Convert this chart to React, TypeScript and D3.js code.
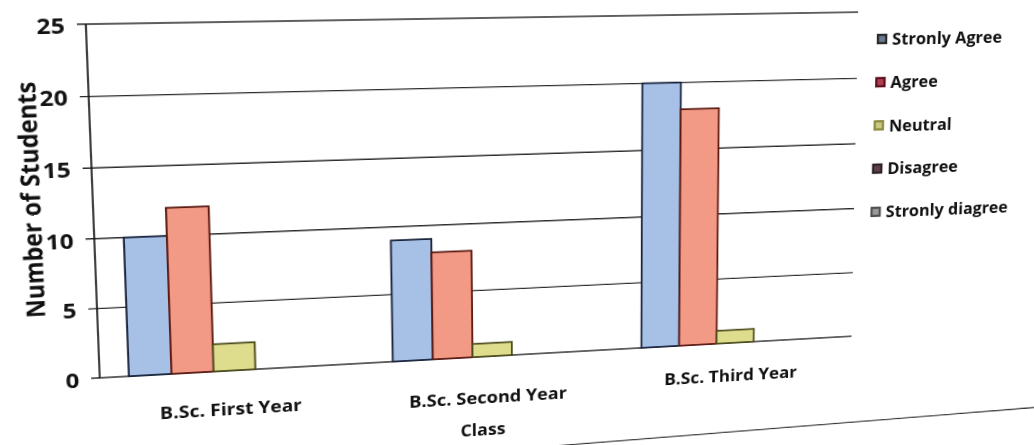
import React from "react";
import * as d3 from "d3";

const categories = ["B.Sc. First Year", "B.Sc. Second Year", "B.Sc. Third Year"];
const seriesNames = ["Stronly Agree", "Agree", "Neutral", "Disagree", "Stronly diagree"];
const stronglyAgree = [10, 9, 20];
const agree = [12, 8, 18];
const neutral = [2, 1, 1];
const disagree = [0, 0, 0];
const stronglyDisagree = [0, 0, 0];
const yTicks = [0, 5, 10, 15, 20, 25];
const seriesFill = ["#a7c0e6", "#f29a86", "#dedd8e", "#a48fc2", "#8fcfe0"];
const seriesStroke = ["#16223a", "#5a1810", "#4a4a1c", "#2a2040", "#20404a"];
const legendSwatch = ["#2a2a2a", "#5a1020", "#8a8a40", "#2a2020", "#505050"];
const legendFill = ["#6a7a90", "#b04050", "#c8c880", "#604050", "#9a9a9a"];
const yTitle = "Number of Students";
const xTitle = "Class";

const seriesValues = [stronglyAgree, agree, neutral, disagree, stronglyDisagree];

// photo perspective: reference points, flat chart coords -> picture coords
const fitFlat = [
  [100, 20], [100, 91.6], [100, 163.2], [100, 234.8], [100, 306.4], [100, 378],
  [860, 20], [860, 91.6], [860, 163.2], [860, 234.8], [860, 306.4], [860, 378],
  [127, 378], [127, 234.8], [380, 378], [380, 249], [634, 378], [634, 91.6],
  [100, 20], [860, 20], [100, 378], [860, 378],
];
const fitPhoto = [
  [86, 20], [88, 94], [91, 167], [94, 239], [97, 309], [101, 378],
  [858, 13], [857, 80], [856, 143], [855, 207], [854, 270], [853, 333],
  [128, 377], [129, 238], [388, 365], [389, 249], [638, 347], [640, 90],
  [86, 20], [858, 13], [101, 378], [853, 333],
];

function solve(A: number[][], b: number[]) {
  const n = b.length;
  for (let c = 0; c < n; c++) {
    let p = c;
    for (let r = c + 1; r < n; r++) if (Math.abs(A[r][c]) > Math.abs(A[p][c])) p = r;
    [A[c], A[p]] = [A[p], A[c]];
    [b[c], b[p]] = [b[p], b[c]];
    for (let r = 0; r < n; r++) {
      if (r === c) continue;
      const f = A[r][c] / A[c][c];
      for (let k = c; k < n; k++) A[r][k] -= f * A[c][k];
      b[r] -= f * b[c];
    }
  }
  return b.map((v, i) => v / A[i][i]);
}

function fitHomography(src: number[][], dst: number[][]) {
  const s = 1000;
  const rows: number[][] = [];
  const rhs: number[] = [];
  for (let i = 0; i < src.length; i++) {
    const x = src[i][0] / s, y = src[i][1] / s, X = dst[i][0] / s, Y = dst[i][1] / s;
    rows.push([x, y, 1, 0, 0, 0, -x * X, -y * X]);
    rhs.push(X);
    rows.push([0, 0, 0, x, y, 1, -x * Y, -y * Y]);
    rhs.push(Y);
  }
  const N: number[][] = Array.from({ length: 8 }, () => new Array(8).fill(0));
  const v: number[] = new Array(8).fill(0);
  rows.forEach((r, k) => {
    for (let i = 0; i < 8; i++) {
      v[i] += r[i] * rhs[k];
      for (let j = 0; j < 8; j++) N[i][j] += r[i] * r[j];
    }
  });
  const h = solve(N, v);
  return [
    [h[0], h[1], h[2] * s],
    [h[3], h[4], h[5] * s],
    [h[6] / s, h[7] / s, 1],
  ];
}

function invert3(m: number[][]) {
  const [a, b, c] = m[0];
  const [d, e, f] = m[1];
  const [g, h, i] = m[2];
  const A = e * i - f * h, B = -(d * i - f * g), C = d * h - e * g;
  const det = a * A + b * B + c * C;
  return [
    [A / det, -(b * i - c * h) / det, (b * f - c * e) / det],
    [B / det, (a * i - c * g) / det, -(a * f - c * d) / det],
    [C / det, -(a * h - b * g) / det, (a * e - b * d) / det],
  ];
}

export default function App() {
  const L = 100, R = 860, T = 20, B = 378;
  const Hm = fitHomography(fitFlat, fitPhoto);
  const Hi = invert3(Hm);
  const unproject = (X: number, Y: number) => {
    const w = Hi[2][0] * X + Hi[2][1] * Y + Hi[2][2];
    return [(Hi[0][0] * X + Hi[0][1] * Y + Hi[0][2]) / w, (Hi[1][0] * X + Hi[1][1] * Y + Hi[1][2]) / w];
  };
  const matrix = `matrix3d(${Hm[0][0]},${Hm[1][0]},0,${Hm[2][0]},${Hm[0][1]},${Hm[1][1]},0,${Hm[2][1]},0,0,1,0,${Hm[0][2]},${Hm[1][2]},0,1)`;

  const x0 = d3.scaleBand<string>().domain(categories).range([L, R]).paddingInner(0).paddingOuter(0);
  const x1 = d3.scaleBand<string>().domain(seriesNames).range([0, x0.bandwidth()]).paddingInner(0).paddingOuter(0.68);
  const y = d3.scaleLinear().domain([0, 25]).range([B, T]);

  const font = "'Open Sans', Lato, sans-serif";

  const legendStart = [882, 39];
  const legendStep = [-1.6, 43.2];
  const border1 = unproject(555, 446);
  const border2 = unproject(1040, 407);
  const yTitlePos = unproject(30, 201);
  const classPos = unproject(483, 429);
  const catPhoto = [[231, 408], [483, 397], [729, 375]];

  return (
    <div style={{ position: "fixed", left: 0, top: 0, width: 1034, height: 445, overflow: "hidden", background: "#fff" }}>
      <svg
        width={1034}
        height={445}
        style={{ position: "absolute", left: 0, top: 0, overflow: "visible", transformOrigin: "0 0", transform: matrix }}
      >
        <rect x={-300} y={-300} width={1700} height={1000} fill="#fff" />
        {yTicks.map((t) => (
          <line key={"g" + t} x1={L - 8} x2={R} y1={y(t)} y2={y(t)} stroke="#2a2a2a" strokeWidth={1.4} />
        ))}
        <line x1={L} x2={L} y1={T} y2={B} stroke="#111" strokeWidth={1.6} />
        {yTicks.map((t) => (
          <text key={"t" + t} x={L - 19} y={y(t)} textAnchor="end" dominantBaseline="central"
            fontFamily={font} fontWeight={700} fontSize={22} fill="#111">{t}</text>
        ))}
        {categories.map((c, ci) => (
          <g key={c} transform={`translate(${x0(c)},0)`}>
            {seriesNames.map((s, si) => {
              const v = seriesValues[si][ci];
              if (v <= 0) return null;
              return (
                <rect key={s} x={x1(s)} y={y(v)} width={x1.bandwidth()} height={y(0) - y(v)}
                  fill={seriesFill[si]} stroke={seriesStroke[si]} strokeWidth={1.8} />
              );
            })}
          </g>
        ))}
        {categories.map((c, ci) => {
          const [, ly] = unproject(catPhoto[ci][0], catPhoto[ci][1]);
          return (
            <text key={"l" + c} x={(x0(c) as number) + x0.bandwidth() / 2 - 4} y={ly} textAnchor="middle"
              dominantBaseline="central" fontFamily={font} fontWeight={700} fontSize={18.5} fill="#111">{c}</text>
          );
        })}
        <text x={classPos[0]} y={classPos[1]} textAnchor="middle" dominantBaseline="central"
          fontFamily={font} fontWeight={700} fontSize={18} fill="#111">{xTitle}</text>
        <text transform={`translate(${yTitlePos[0]},${yTitlePos[1]}) rotate(-90)`} textAnchor="middle" dominantBaseline="central"
          fontFamily={font} fontWeight={700} fontSize={23.5} fill="#111">{yTitle}</text>
        {seriesNames.map((s, i) => {
          const [lx, ly] = unproject(legendStart[0] + legendStep[0] * i, legendStart[1] + legendStep[1] * i);
          return (
            <g key={"lg" + s}>
              <rect x={lx - 4.5} y={ly - 4.5} width={9} height={9} fill={legendFill[i]} stroke={legendSwatch[i]} strokeWidth={2.4} />
              <text x={lx + 11} y={ly} dominantBaseline="central" fontFamily={font} fontWeight={700}
                fontSize={18} fill="#111">{s}</text>
            </g>
          );
        })}
        <line x1={border1[0]} y1={border1[1]} x2={border2[0]} y2={border2[1]} stroke="#333" strokeWidth={1.3} />
      </svg>
    </div>
  );
}
